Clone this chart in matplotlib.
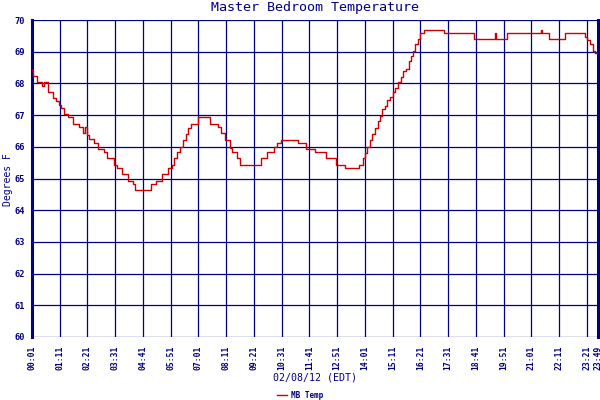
import matplotlib
matplotlib.use("Agg")
import matplotlib.pyplot as plt

# step change times (HH:MM) and temperatures (F)
times = ["00:01", "00:03", "00:14", "00:27", "00:32", "00:42", "00:53", "01:01",
         "01:10", "01:13", "01:22", "01:32", "01:45", "01:59", "02:10", "02:15",
         "02:20", "02:25", "02:38", "02:48", "03:02", "03:11", "03:28", "03:36",
         "03:49", "04:02", "04:15", "04:22", "05:00", "05:15", "05:29", "05:45",
         "05:53", "06:00", "06:06", "06:14", "06:21", "06:29", "06:35", "06:41",
         "07:00", "07:30", "07:51", "07:59", "08:09", "08:20", "08:26", "08:37",
         "08:47", "09:38", "09:55", "10:12", "10:20", "10:30", "11:12", "11:33",
         "11:56", "12:24", "12:47", "13:10", "13:46", "13:55", "14:00", "14:05",
         "14:13", "14:20", "14:26", "14:33", "14:38", "14:45", "14:51", "14:57",
         "15:04", "15:12", "15:18", "15:25", "15:31", "15:37", "15:44", "15:52",
         "15:57", "16:02", "16:08", "16:14", "16:19", "16:30", "17:20", "18:35",
         "19:30", "19:32", "19:59", "21:24", "21:27", "21:45", "22:27", "23:15",
         "23:21", "23:28", "23:36", "23:42", "23:49"]
temps = [68.42, 68.23, 68.03, 67.92, 68.03, 67.72, 67.53, 67.45,
         67.32, 67.21, 67.03, 66.93, 66.71, 66.62, 66.42, 66.62,
         66.37, 66.25, 66.11, 65.92, 65.83, 65.64, 65.43, 65.32,
         65.13, 64.92, 64.82, 64.63, 64.83, 64.92, 65.13, 65.32,
         65.43, 65.64, 65.83, 66.00, 66.20, 66.40, 66.60, 66.71,
         66.93, 66.72, 66.62, 66.42, 66.22, 65.95, 65.83, 65.64,
         65.43, 65.64, 65.83, 66.00, 66.11, 66.22, 66.11, 65.92,
         65.83, 65.64, 65.43, 65.32, 65.43, 65.64, 65.80, 65.98,
         66.20, 66.40, 66.60, 66.81, 66.97, 67.18, 67.29, 67.47,
         67.56, 67.72, 67.87, 68.03, 68.21, 68.38, 68.45, 68.72,
         68.87, 69.03, 69.24, 69.40, 69.59, 69.68, 69.59, 69.40,
         69.59, 69.40, 69.59, 69.68, 69.59, 69.40, 69.59, 69.45,
         69.37, 69.24, 69.03, 68.96, 68.96]

tick_labels = ["00:01", "01:11", "02:21", "03:31", "04:41", "05:51", "07:01",
               "08:11", "09:21", "10:31", "11:41", "12:51", "14:01", "15:11",
               "16:21", "17:31", "18:41", "19:51", "21:01", "22:11", "23:21",
               "23:49"]
y_ticks = list(range(60, 71))


def to_min(s):
    h, m = s.split(":")
    return int(h) * 60 + int(m)


navy = "#000080"
mono = "DejaVu Sans Mono"

x = [to_min(t) for t in times]
xt = [to_min(t) for t in tick_labels]

fig = plt.figure(figsize=(6, 4), dpi=100)
ax = fig.add_axes([32 / 600, 1 - 337 / 400, 566 / 600, 317 / 400])

ax.step(x, temps, where="post", color="#cc0000", lw=1.0, label="MB Temp", zorder=3)

ax.set_xlim(xt[0], xt[-1])
ax.set_ylim(60, 70)
ax.set_xticks(xt)
ax.set_xticklabels(tick_labels, rotation=90, fontsize=5.8, family=mono,
                   fontweight="bold", color=navy)
ax.set_yticks(y_ticks)
ax.set_yticklabels([str(v) for v in y_ticks], fontsize=6.2, family=mono,
                   fontweight="bold", color=navy)
ax.tick_params(length=0, pad=5)
ax.tick_params(axis="x", pad=6)
ax.grid(True, color=navy, lw=0.9)
for side in ["top", "bottom"]:
    ax.spines[side].set_visible(False)
ax.spines["left"].set_color(navy)
ax.spines["left"].set_linewidth(2.2)
ax.spines["right"].set_color(navy)
ax.spines["right"].set_linewidth(2.2)

fig.text(0.525, 0.98, "Master Bedroom Temperature", ha="center", va="center",
         fontsize=9.6, family=mono, color=navy)
fig.text(0.525, 0.055, "02/08/12 (EDT)", ha="center", va="center",
         fontsize=7.2, family=mono, color=navy)
fig.text(0.013, 0.55, "Degrees F", ha="center", va="center", rotation=90,
         fontsize=7.0, family=mono, color=navy)

leg = fig.legend(loc="center", bbox_to_anchor=(0.5, 0.0125), frameon=False,
                 handlelength=1.3, handletextpad=0.5,
                 prop={"family": mono, "size": 5.5, "weight": "bold"})
for t in leg.get_texts():
    t.set_color(navy)

fig.savefig("out.png", dpi=100, facecolor="white")
